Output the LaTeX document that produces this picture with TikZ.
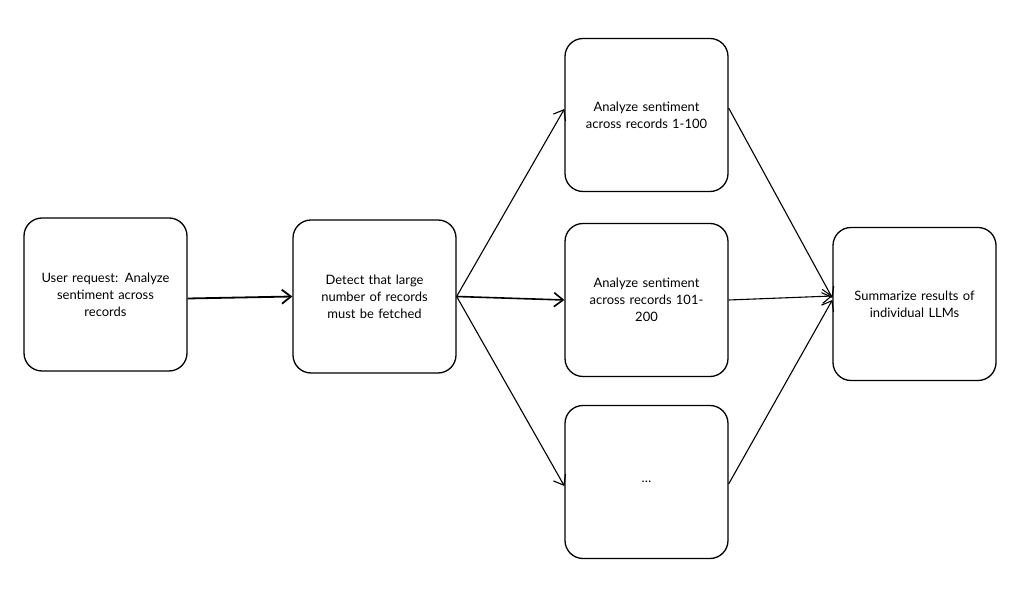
\documentclass[tikz,border=0pt]{standalone}
\usepackage{fontspec}
\setmainfont{Lato}
\usetikzlibrary{arrows.meta}
\tikzset{
  llmbox/.style={draw,rounded corners=18bp,line width=1.3bp,minimum width=163bp,minimum height=153bp,
    text width=156bp,align=center,font=\fontsize{13}{17}\selectfont},
}
\begin{document}
\begin{tikzpicture}[>={Straight Barb[length=9bp,width=14bp]},line join=bevel]
\useasboundingbox [fill=white] (0bp,0bp) rectangle (1024bp,589bp);
%%
\node (node_0) at (105.5bp,294.5bp) [llmbox] {User request: Analyze\\ sentiment across\\ records};
  \node (node_1) at (374.5bp,292.5bp) [llmbox] {Detect that large\\ number of records\\ must be fetched};
  \node (node_2) at (646.5bp,474.0bp) [llmbox] {Analyze sentiment\\ across records 1-100};
  \node (node_3) at (646.5bp,289.0bp) [llmbox] {Analyze sentiment\\ across records 101-\\ 200};
  \node (node_4) at (646.5bp,107.0bp) [llmbox] {\dots};
  \node (node_5) at (914.5bp,285.0bp) [llmbox] {Summarize results of\\ individual LLMs};
  \draw [black,->,line width=1.8bp] (node_0.east) ++(0,-4bp) -- (node_1.west);
  \draw [black,->,line width=1.1bp] (node_1.east) -- ([yshift=6bp]node_2.west);
  \draw [black,->,line width=1.6bp] (node_1.east) -- (node_3.west);
  \draw [black,->,line width=1.1bp] (node_1.east) -- ([yshift=-4bp]node_4.west);
  \draw [black,->,line width=1.1bp] ([yshift=7bp]node_2.east) -- ([yshift=6bp]node_5.west);
  \draw [black,->,line width=1.1bp] (node_3.east) -- ([yshift=8bp]node_5.west);
  \draw [black,->,line width=1.1bp] ([yshift=-2bp]node_4.east) -- ([yshift=4bp]node_5.west);
%
\end{tikzpicture}
\end{document}
